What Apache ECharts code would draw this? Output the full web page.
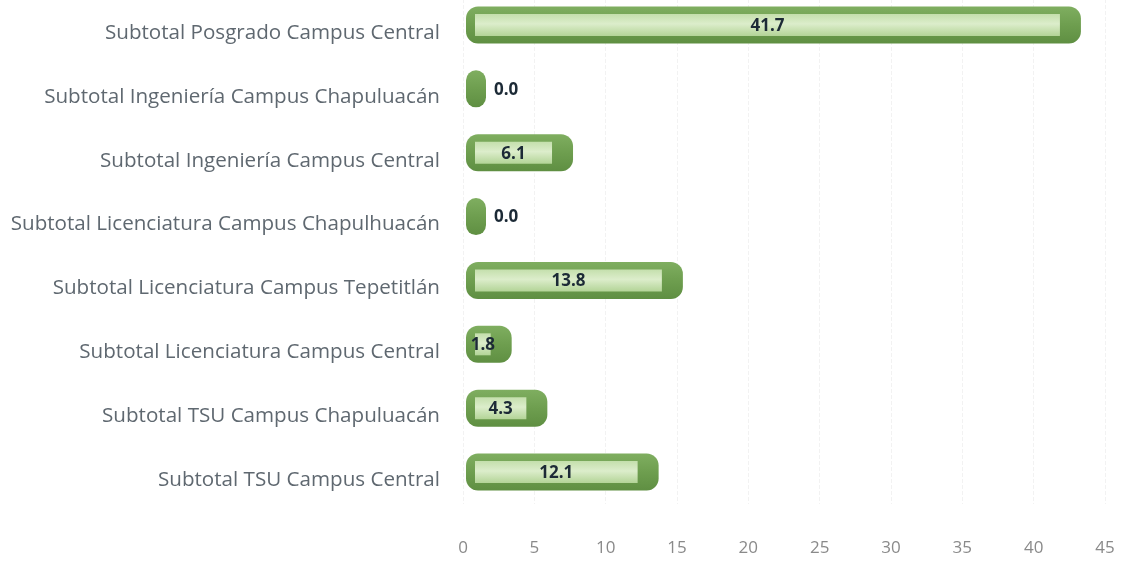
<!DOCTYPE html>
<html>
<head>
<meta charset="utf-8">
<script src="https://cdn.jsdelivr.net/npm/echarts@6/dist/echarts.min.js"></script>
<style>
  html, body { margin: 0; padding: 0; background: #fff; }
  #main { width: 1125px; height: 563px; }
</style>
</head>
<body>
<div id="main"></div>
<script>
// categories from top to bottom
var categories = [
  'Subtotal Posgrado Campus Central',
  'Subtotal Ingeniería Campus Chapuluacán',
  'Subtotal Ingeniería Campus Central',
  'Subtotal Licenciatura Campus Chapulhuacán',
  'Subtotal Licenciatura Campus Tepetitlán',
  'Subtotal Licenciatura Campus Central',
  'Subtotal TSU Campus Chapuluacán',
  'Subtotal TSU Campus Central'
];
var values = [41.7, 0.0, 6.1, 0.0, 13.8, 1.8, 4.3, 12.1];
var xTicks = [0, 45, 5]; // min, max, interval

var font = '"Open Sans", Lato, sans-serif';

var myChart = echarts.init(document.getElementById('main'));

function renderBar(params, api) {
  var v = api.value(0);
  var idx = api.value(1);
  var start = api.coord([0, idx]);
  var end = api.coord([v, idx]);
  var cy = start[1];
  var outerH = 37, innerH = 22;
  var x0 = start[0] + 3;
  var x1 = end[0] + 23;
  var children = [{
    type: 'rect',
    shape: { x: x0, y: cy - outerH / 2, width: x1 - x0, height: outerH, r: 12 },
    style: {
      fill: new echarts.graphic.LinearGradient(0, 0, 0, 1, [
        { offset: 0, color: '#7fae60' },
        { offset: 0.5, color: '#6e9e4f' },
        { offset: 1, color: '#5f8f42' }
      ])
    }
  }];
  var ix0 = start[0] + 12;
  var ix1 = end[0] + 2;
  var inside = ix1 - ix0 > 2;
  if (inside) {
    children.push({
      type: 'rect',
      shape: { x: ix0, y: cy - innerH / 2, width: ix1 - ix0, height: innerH },
      style: {
        fill: new echarts.graphic.LinearGradient(0, 0, 0, 1, [
          { offset: 0, color: '#c4dfac' },
          { offset: 0.45, color: '#dcedcb' },
          { offset: 1, color: '#b3d497' }
        ])
      }
    });
  }
  children.push({
    type: 'text',
    style: {
      text: v.toFixed(1),
      x: inside ? (ix0 + ix1) / 2 : x1 + 8,
      y: cy + 1,
      align: inside ? 'center' : 'left',
      verticalAlign: 'middle',
      textAlign: inside ? 'center' : 'left',
      textVerticalAlign: 'middle',
      font: 'bold 17px ' + font,
      fill: '#1c2a36'
    }
  });
  return { type: 'group', children: children };
}

myChart.setOption({
  animation: false,
  grid: { left: 463, right: 20, top: -7, bottom: 59, containLabel: false, outerBoundsMode: 'none' },
  xAxis: {
    type: 'value',
    min: xTicks[0],
    max: xTicks[1],
    interval: xTicks[2],
    axisLine: { show: false },
    axisTick: { show: false },
    splitLine: { show: true, lineStyle: { color: '#f2f2f2', type: 'dashed' } },
    axisLabel: { color: '#8a8a8a', fontSize: 17, fontFamily: font, margin: 36 }
  },
  yAxis: {
    type: 'category',
    inverse: true,
    data: categories,
    axisLine: { show: false },
    axisTick: { show: false },
    axisLabel: {
      color: '#5f6870', fontSize: 20.6, fontFamily: font, margin: 23,
      verticalAlign: 'top', lineHeight: 16
    }
  },
  series: [{
    type: 'custom',
    renderItem: renderBar,
    encode: { x: 0, y: 1 },
    data: values.map(function (v, i) { return [v, i]; })
  }]
});
</script>
</body>
</html>
